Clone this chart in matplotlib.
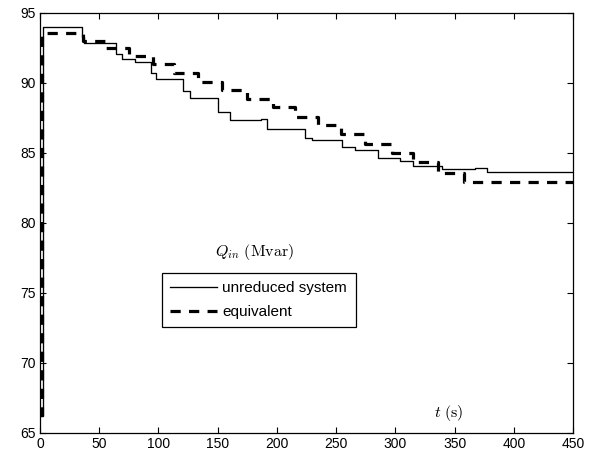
import matplotlib
matplotlib.use("Agg")
import matplotlib.pyplot as plt

plt.rcParams['font.family'] = ['Liberation Sans', 'DejaVu Sans']
plt.rcParams['mathtext.fontset'] = 'cm'

# unreduced system (step data)
solid_t = [0, 2.2, 35.5, 37.5, 64, 69, 80, 94, 98, 121, 127, 150, 160, 187, 192,
           224, 230, 255, 266, 285, 304, 315, 339, 367, 377, 450]
solid_q = [66.2, 94.0, 93.3, 92.85, 92.1, 91.7, 91.5, 90.7, 90.25, 89.4, 88.9,
           87.95, 87.35, 87.45, 86.7, 86.05, 85.93, 85.45, 85.22, 84.65, 84.4,
           84.1, 83.83, 83.95, 83.66, 83.66]

# equivalent (step data)
equiv_t = [0, 1.4, 36, 55, 75, 95, 113, 133, 154, 175, 197, 215, 235, 254, 274,
           297, 315, 336, 358, 450]
equiv_q = [66.3, 93.6, 93.0, 92.5, 91.93, 91.36, 90.74, 90.1, 89.5, 88.87, 88.3,
           87.6, 87.0, 86.33, 85.67, 85.02, 84.35, 83.6, 82.95, 82.95]

x_ticks = [0, 50, 100, 150, 200, 250, 300, 350, 400, 450]
y_ticks = [65, 70, 75, 80, 85, 90, 95]

fig = plt.figure(figsize=(5.97, 4.55), dpi=100)
ax = fig.add_axes([40/597, 22/455, 533/597, 420/455])

ax.plot(solid_t, solid_q, color='black', lw=0.95, drawstyle='steps-post',
        label='unreduced system')
ax.plot(equiv_t, equiv_q, color='black', lw=2.3, drawstyle='steps-post',
        dashes=(3.2, 2.6), label='equivalent')

ax.set_xlim(0, 450)
ax.set_ylim(65, 95)
ax.set_xticks(x_ticks)
ax.set_yticks(y_ticks)
ax.tick_params(direction='in', top=True, right=True, length=4, width=0.8,
               labelsize=10, pad=3)
for s in ax.spines.values():
    s.set_linewidth(0.9)

ax.text(181, 77.9, r'$Q_{in}\ \mathrm{(Mvar)}$', fontsize=11.5,
        ha='center', va='center')
ax.text(345, 66.4, r'$t\ \mathrm{(s)}$', fontsize=11.5, ha='center', va='center')

leg = ax.legend(loc='upper left', bbox_to_anchor=(0.229, 0.381), fontsize=11,
                frameon=True, fancybox=False, framealpha=1, edgecolor='black',
                handlelength=3.05, borderpad=0.55, labelspacing=0.62,
                handletextpad=0.35, borderaxespad=0)
leg.get_frame().set_linewidth(0.9)

fig.savefig('out.png', dpi=100)
